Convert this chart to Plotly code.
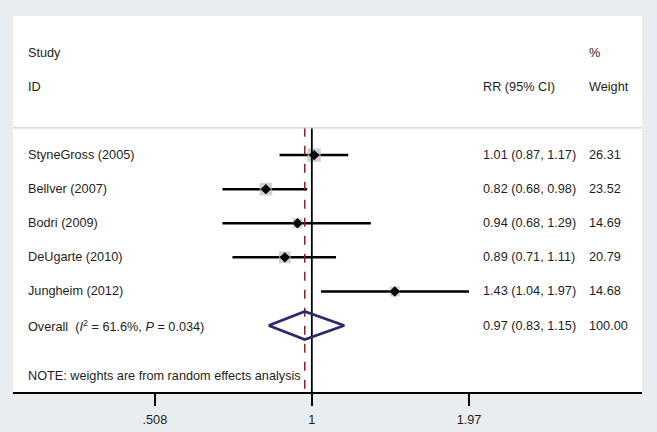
import math
import plotly.graph_objects as go

studies = ["StyneGross (2005)", "Bellver (2007)", "Bodri (2009)", "DeUgarte (2010)", "Jungheim (2012)"]
rr = [1.01, 0.82, 0.94, 0.89, 1.43]
lo = [0.87, 0.68, 0.68, 0.71, 1.04]
hi = [1.17, 0.98, 1.29, 1.11, 1.97]
weights = ["26.31", "23.52", "14.69", "20.79", "14.68"]
overall_label = "Overall  (<i>I</i><sup>2</sup> = 61.6%, <i>P</i> = 0.034)"
overall_rr, overall_lo, overall_hi, overall_w = 0.97, 0.83, 1.15, "100.00"
tick_vals = [0.508, 1, 1.97]
tick_text = [".508", "1", "1.97"]
note = "NOTE: weights are from random effects analysis"

FONT = "Liberation Sans, Arial, sans-serif"
FS = 12.7
TXT = "#1e1e1e"

n = len(studies)
rows = list(range(n))
ov_row = n
sep_row = -0.8
y_bottom = 6.95
y_top = -4.08

fig = go.Figure()

# CI lines
cx, cy = [], []
for r, a, b in zip(rows, lo, hi):
    cx += [a, b, None]
    cy += [r, r, None]
fig.add_trace(go.Scatter(x=cx, y=cy, mode="lines", line=dict(color="black", width=2.5),
                         hoverinfo="skip", showlegend=False))

# weight boxes
sizes = [2.6 * math.sqrt(float(w)) for w in weights]
fig.add_trace(go.Scatter(x=rr, y=rows, mode="markers",
                         marker=dict(symbol="square", size=sizes, color="#bdbdbd", line=dict(width=0)),
                         showlegend=False))
# point estimates
fig.add_trace(go.Scatter(x=rr, y=rows, mode="markers",
                         marker=dict(symbol="diamond", size=8, color="black"),
                         showlegend=False))

# reference line at 1 (solid black)
fig.add_trace(go.Scatter(x=[1, 1], y=[sep_row, y_bottom], mode="lines",
                         line=dict(color="black", width=1.8), showlegend=False, hoverinfo="skip"))
# overall line (dashed red)
fig.add_trace(go.Scatter(x=[overall_rr, overall_rr], y=[sep_row, y_bottom], mode="lines",
                         line=dict(color="#8b2323", width=1.5, dash="dash"), showlegend=False,
                         hoverinfo="skip"))

# overall diamond
h = 0.41
fig.add_trace(go.Scatter(x=[overall_lo, overall_rr, overall_hi, overall_rr, overall_lo],
                         y=[ov_row, ov_row - h, ov_row, ov_row + h, ov_row],
                         mode="lines", line=dict(color="#2b2a6b", width=2.8),
                         showlegend=False, hoverinfo="skip"))

# separator
fig.add_shape(type="line", xref="paper", yref="y", x0=0, x1=1, y0=sep_row, y1=sep_row,
              line=dict(color="#cfcfcf", width=1.2))

x_lab = 0.0207
x_rr = 0.7447
x_w = 0.9119

def txt(x, y, s):
    fig.add_annotation(xref="paper", yref="y", x=x, y=y, text=s, showarrow=False,
                       xanchor="left", yanchor="middle",
                       font=dict(family=FONT, size=FS, color=TXT))

txt(x_lab, -3, "Study")
txt(x_lab, -2, "ID")
txt(x_rr, -2, "RR (95% CI)")
txt(x_w, -3, "%")
txt(x_w, -2, "Weight")
for r, s, e, a, b, w in zip(rows, studies, rr, lo, hi, weights):
    txt(x_lab, r, s)
    txt(x_rr, r, f"{e:.2f} ({a:.2f}, {b:.2f})")
    txt(x_w, r, w)
txt(x_lab, ov_row, overall_label)
txt(x_rr, ov_row, f"{overall_rr:.2f} ({overall_lo:.2f}, {overall_hi:.2f})")
txt(x_w, ov_row, overall_w)
txt(x_lab, 6.48, note)

fig.update_layout(
    width=657, height=432,
    margin=dict(l=13, r=15, t=16, b=40, autoexpand=False),
    paper_bgcolor="#e9edef",
    plot_bgcolor="white",
    font=dict(family=FONT, size=FS, color=TXT),
    xaxis=dict(type="log", range=[-0.5599, 0.6186], showgrid=False, zeroline=False,
               showline=True, linecolor="black", linewidth=2, automargin=False,
               ticks="outside", ticklen=12, tickwidth=2, tickcolor="black",
               ticklabelstandoff=3,
               tickvals=tick_vals, ticktext=tick_text, tickfont=dict(size=FS, color=TXT)),
    yaxis=dict(visible=False, range=[y_bottom, y_top], automargin=False),
    showlegend=False,
)

fig.write_html("out.html", config={"displayModeBar": False},
               post_script="document.body.style.margin='0';document.body.style.padding='0';"
                           "document.body.style.background='#e9edef';")
